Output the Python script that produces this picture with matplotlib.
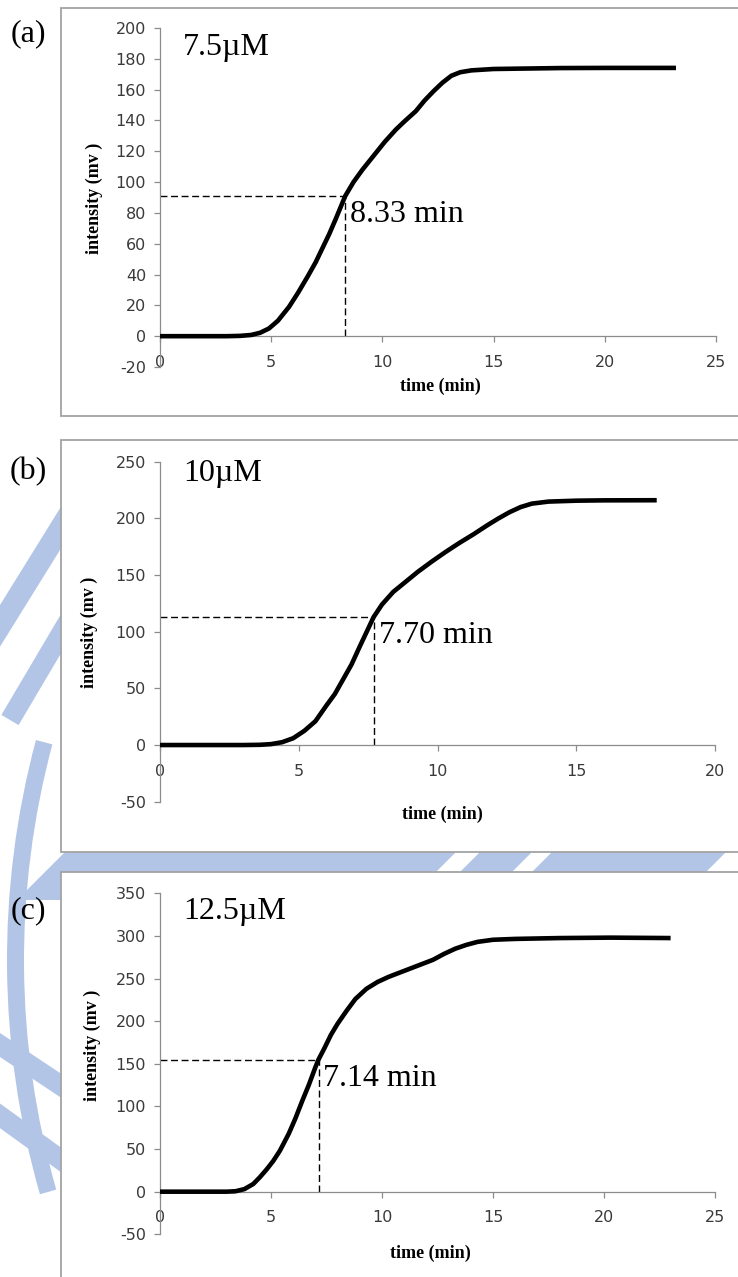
import math
import matplotlib
matplotlib.use("Agg")
import matplotlib.pyplot as plt
from matplotlib.patches import Rectangle, Polygon, Wedge
from matplotlib.transforms import Affine2D

# ---------------- data ----------------
# (a) 7.5 uM
time_a = [0, 1, 2, 3, 3.6, 4.1, 4.5, 4.9, 5.3, 5.8, 6.2, 6.65, 7.0, 7.3, 7.6, 7.9,
          8.33, 8.7, 9.1, 9.6, 10.1, 10.6, 11.0, 11.5, 11.9, 12.3, 12.7, 13.1,
          13.5, 14.0, 15.0, 16.5, 18.0, 20.0, 23.2]
intensity_a = [0, 0, 0, 0, 0.2, 0.8, 2.2, 5, 10, 19, 28, 39, 48, 57, 66, 76,
               91, 100, 108, 117, 126, 134, 139.5, 146, 153, 159, 164.5, 169,
               171.3, 172.5, 173.4, 173.7, 174, 174.1, 174.1]
half_time_a = 8.33
half_level_a = 91

# (b) 10 uM
time_b = [0, 1, 2, 3, 3.6, 4.0, 4.4, 4.8, 5.2, 5.6, 6.0, 6.3, 6.6, 6.9, 7.2, 7.45,
          7.70, 8.0, 8.4, 8.8, 9.3, 9.8, 10.3, 10.8, 11.3, 11.8, 12.2, 12.6,
          13.0, 13.4, 14.0, 15.0, 16.0, 17.9]
intensity_b = [0, 0, 0, 0, 0.2, 0.8, 2.5, 6, 12.5, 21, 35, 45, 58, 71, 87, 100,
               113, 124, 135, 143, 153, 162, 170.5, 178.5, 186, 194, 200, 205.5,
               210, 213, 214.8, 215.6, 215.9, 216]
half_time_b = 7.70
half_level_b = 113

# (c) 12.5 uM
time_c = [0, 1, 2, 3, 3.4, 3.8, 4.2, 4.5, 4.8, 5.1, 5.4, 5.8, 6.1, 6.4, 6.7, 7.0,
          7.14, 7.4, 7.7, 8.0, 8.4, 8.8, 9.3, 9.8, 10.3, 10.8, 11.3, 11.8, 12.3,
          12.8, 13.3, 13.8, 14.3, 15.0, 16.0, 18.0, 20.3, 23.0]
intensity_c = [0, 0, 0, 0, 0.5, 3, 9, 17, 26, 36, 48, 68, 86, 106, 125, 146,
               155, 168, 184, 197, 212, 226, 238, 246, 252, 257, 262, 267, 272,
               279, 285, 289.5, 293, 295.5, 296.5, 297.5, 298, 297.5]
half_time_c = 7.14
half_level_c = 155

panel_tags = ["(a)", "(b)", "(c)"]
concentrations = ["7.5µM", "10µM", "12.5µM"]
xticks_a = [0, 5, 10, 15, 20, 25]
xticks_b = [0, 5, 10, 15, 20]
xticks_c = [0, 5, 10, 15, 20, 25]
yticks_a = [-20, 0, 20, 40, 60, 80, 100, 120, 140, 160, 180, 200]
yticks_b = [-50, 0, 50, 100, 150, 200, 250]
yticks_c = [-50, 0, 50, 100, 150, 200, 250, 300, 350]
xlabel = "time (min)"
ylabel = "intensity (mv )"

# ---------------- layout ----------------
W, H = 738, 1277
fig = plt.figure(figsize=(W / 100, H / 100), dpi=100)
fig.patch.set_facecolor("white")
# pixel coordinates measured from the top-left corner
pxT = Affine2D().scale(1 / W, -1 / H).translate(0, 1) + fig.transFigure

SERIF = ["Liberation Serif", "DejaVu Serif"]
SANS = ["DejaVu Sans"]
WM = "#b3c5e6"   # watermark blue
AXC = "#8c8c8c"  # axis grey


def stripe(x0, y0, x1, y1, w):
    L = math.hypot(x1 - x0, y1 - y0)
    nx, ny = -(y1 - y0) / L * w / 2, (x1 - x0) / L * w / 2
    return Polygon([(x0 + nx, y0 + ny), (x1 + nx, y1 + ny),
                    (x1 - nx, y1 - ny), (x0 - nx, y0 - ny)], closed=True)


# watermark emblem (sits behind the white chart frames)
wm_shapes = []
# strip between the second and third frame, cut by slanted white gaps
for xl, xr in [(55, 446), (470, 522), (542, 716)]:
    wm_shapes.append(Polygon([(xl + 32, 830), (xr + 32, 830),
                              (xr - 38, 900), (xl - 38, 900)], closed=True))
# outer ring of the emblem
wm_shapes.append(Wedge((857, 960), 850, 164, 195, width=17))
# slanted rays visible in the left margin
for seg in [(75, 505, -15, 650, 22), (75, 610, 10, 720, 20),
            (-15, 1035, 75, 1095, 20), (-15, 1105, 75, 1170, 20)]:
    wm_shapes.append(stripe(*seg))
for s in wm_shapes:
    s.set_transform(pxT)
    s.set_facecolor(WM)
    s.set_edgecolor("none")
    s.set_zorder(0)
    fig.add_artist(s)

panels = [
    dict(t=time_a, y=intensity_a, th=half_time_a, yh=half_level_a,
         xt=xticks_a, yt=yticks_a, frame=(61, 8, 416),
         ax=(160, 716, 28, 367), tag_y=34, conc_y=48, ylab=(94, 198), xlab=(440, 386)),
    dict(t=time_b, y=intensity_b, th=half_time_b, yh=half_level_b,
         xt=xticks_b, yt=yticks_b, frame=(61, 440, 852),
         ax=(160, 715, 461.7, 801.7), tag_y=472, conc_y=474, ylab=(89, 632), xlab=(442, 814)),
    dict(t=time_c, y=intensity_c, th=half_time_c, yh=half_level_c,
         xt=xticks_c, yt=yticks_c, frame=(61, 872, 1290),
         ax=(160, 715, 893.3, 1234.3), tag_y=911, conc_y=912, ylab=(92, 1045), xlab=(430, 1253)),
]

for i, p in enumerate(panels):
    fx, ftop, fbot = p["frame"]
    frame = Rectangle((fx, ftop), 760 - fx, fbot - ftop, transform=pxT,
                      facecolor="white", edgecolor="#a3a3a3", lw=1.3, zorder=1)
    fig.add_artist(frame)

    l, r, t, b = p["ax"]
    ax = fig.add_axes([l / W, 1 - b / H, (r - l) / W, (b - t) / H])
    ax.set_zorder(2)
    ax.patch.set_alpha(0)

    ax.plot(p["t"], p["y"], color="black", lw=3.3, solid_capstyle="butt",
            solid_joinstyle="round", zorder=3)
    ax.plot([0, p["th"]], [p["yh"], p["yh"]], color="black", lw=1.0,
            dashes=(5, 2.6), zorder=2)
    ax.plot([p["th"], p["th"]], [0, p["yh"]], color="black", lw=1.0,
            dashes=(5, 2.6), zorder=2)
    ax.annotate(f"{p['th']:.2f} min", xy=(p["th"], p["yh"]), xytext=(3.5, -3),
                textcoords="offset points", ha="left", va="top",
                fontsize=23, family=SERIF, color="black")

    ax.set_xlim(p["xt"][0], p["xt"][-1])
    ax.set_ylim(p["yt"][0], p["yt"][-1])
    ax.set_xticks(p["xt"])
    ax.set_yticks(p["yt"])
    ax.set_xticklabels([str(v) for v in p["xt"]])
    ax.set_yticklabels([str(v) for v in p["yt"]])

    for side in ("top", "right"):
        ax.spines[side].set_visible(False)
    ax.spines["bottom"].set_position(("data", 0))
    for side in ("left", "bottom"):
        ax.spines[side].set_color(AXC)
        ax.spines[side].set_linewidth(0.9)
    ax.tick_params(axis="both", direction="out", length=4, width=0.9,
                   color=AXC, labelsize=11.5, labelcolor="#3a3a3a")
    ax.tick_params(axis="x", pad=9.5)
    ax.tick_params(axis="y", pad=6)
    for lab in ax.get_xticklabels() + ax.get_yticklabels():
        lab.set_family(SANS)

    fig.text(28, p["tag_y"], panel_tags[i], transform=pxT, ha="center", va="center",
             fontsize=23, family=SERIF)
    fig.text(183, p["conc_y"], concentrations[i], transform=pxT, ha="left",
             va="center", fontsize=23, family=SERIF)
    fig.text(p["ylab"][0], p["ylab"][1], ylabel, transform=pxT, rotation=90,
             ha="center", va="center", fontsize=13, fontweight="bold", family=SERIF)
    fig.text(p["xlab"][0], p["xlab"][1], xlabel, transform=pxT, ha="center",
             va="center", fontsize=13, fontweight="bold", family=SERIF)

fig.savefig("out.png", dpi=100, facecolor="white")
